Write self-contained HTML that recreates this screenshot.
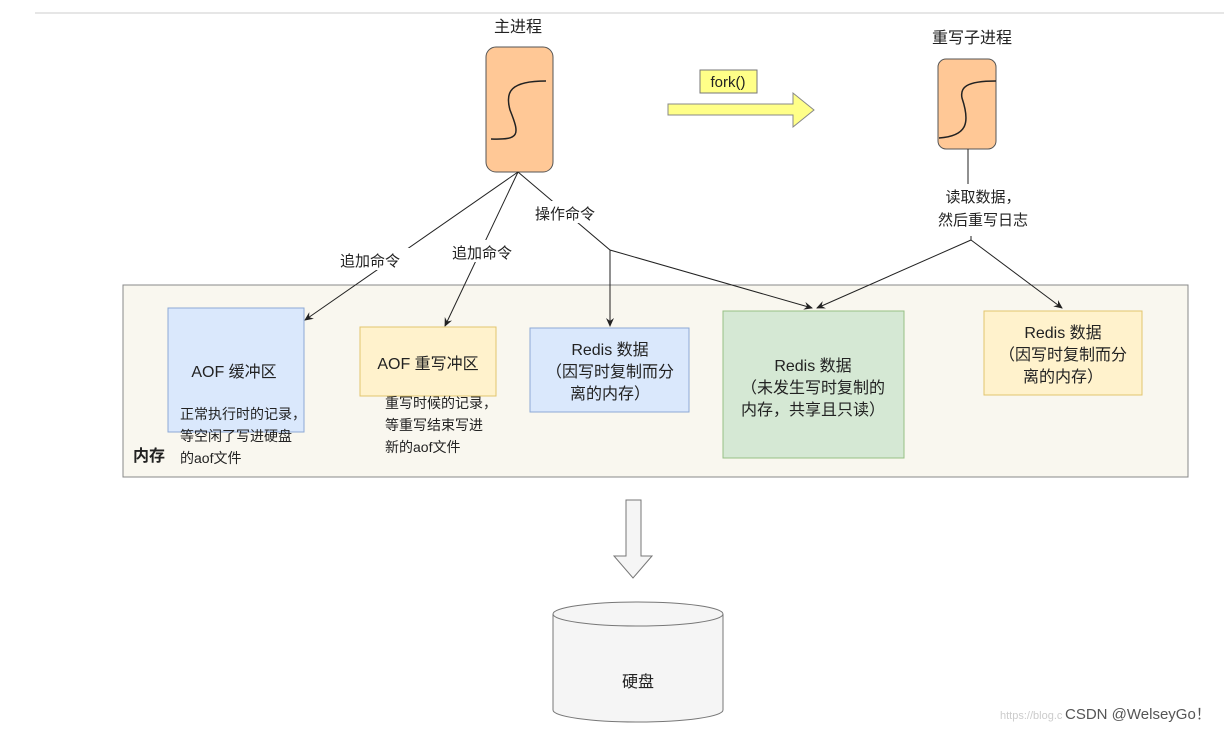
<!DOCTYPE html>
<html><head><meta charset="utf-8"><style>
html,body{margin:0;padding:0;background:#fff;}
svg text{font-family:"Liberation Sans","Noto Sans CJK SC",sans-serif;fill:#222;}
</style></head><body>
<svg width="1224" height="732" viewBox="0 0 1224 732" xmlns="http://www.w3.org/2000/svg">
<defs><marker id="a" markerWidth="10" markerHeight="10" refX="8" refY="5" orient="auto" markerUnits="userSpaceOnUse"><path d="M0,1 L9,5 L0,9 L3,5 Z" fill="#222"/></marker></defs>
<line x1="35" y1="13" x2="1224" y2="13" stroke="#e6e6e6" stroke-width="2"/>
<text x="518" y="32" font-size="16" text-anchor="middle">主进程</text>
<rect x="486" y="47" width="67" height="125" rx="10" fill="#FFC896" stroke="#555"/>
<path d="M546,81 C510,81 505,92 510,110 C520,135 520,140 491,139" fill="none" stroke="#222" stroke-width="1.5"/>
<text x="972" y="43" font-size="16" text-anchor="middle">重写子进程</text>
<rect x="938" y="59" width="58" height="90" rx="8" fill="#FFC896" stroke="#555"/>
<path d="M996,81 C965,81 960,88 962,98 C970,122 968,136 939,138" fill="none" stroke="#222" stroke-width="1.5"/>
<rect x="700" y="70" width="57" height="23" fill="#FFFF88" stroke="#777"/>
<text x="728" y="87" font-size="15" text-anchor="middle">fork()</text>
<path d="M668,104 L793,104 L793,93 L814,110 L793,127 L793,115 L668,115 Z" fill="#FFFF88" stroke="#888"/>
<rect x="123" y="285" width="1065" height="192" fill="#F9F7EF" stroke="#888"/>
<line x1="518" y1="172" x2="305" y2="320" stroke="#222" marker-end="url(#a)"/>
<line x1="518" y1="172" x2="445" y2="326" stroke="#222" marker-end="url(#a)"/>
<polyline points="518,172 610,250 812,308" fill="none" stroke="#222" marker-end="url(#a)"/>
<line x1="610" y1="250" x2="610" y2="326" stroke="#222" marker-end="url(#a)"/>
<line x1="968" y1="149" x2="968" y2="184" stroke="#222"/>
<polyline points="971,236 971,240 817,308" fill="none" stroke="#222" marker-end="url(#a)"/>
<line x1="971" y1="240" x2="1062" y2="308" stroke="#222" marker-end="url(#a)"/>
<rect x="330" y="248" width="80" height="22" fill="#fff"/>
<text x="370" y="266" font-size="15" text-anchor="middle">追加命令</text>
<rect x="443" y="240" width="78" height="22" fill="#fff"/>
<text x="482" y="258" font-size="15" text-anchor="middle">追加命令</text>
<rect x="526" y="201" width="78" height="22" fill="#fff"/>
<text x="565" y="219" font-size="15" text-anchor="middle">操作命令</text>
<text x="983" y="202" font-size="15" text-anchor="middle">读取数据，</text>
<text x="983" y="225" font-size="15" text-anchor="middle">然后重写日志</text>
<rect x="168" y="308" width="136" height="124" fill="#DAE8FC" stroke="#8DA9D6"/>
<text x="234" y="377" font-size="16" text-anchor="middle">AOF 缓冲区</text>
<rect x="360" y="327" width="136" height="69" fill="#FFF2CC" stroke="#E2C56E"/>
<text x="428" y="369" font-size="16" text-anchor="middle">AOF 重写冲区</text>
<rect x="530" y="328" width="159" height="84" fill="#DAE8FC" stroke="#8DA9D6"/>
<text x="610" y="355" font-size="16" text-anchor="middle">Redis 数据</text>
<text x="610" y="377" font-size="16" text-anchor="middle">（因写时复制而分</text>
<text x="610" y="399" font-size="16" text-anchor="middle">离的内存）</text>
<rect x="723" y="311" width="181" height="147" fill="#D5E8D4" stroke="#97C085"/>
<text x="813" y="371" font-size="16" text-anchor="middle">Redis 数据</text>
<text x="813" y="393" font-size="16" text-anchor="middle">（未发生写时复制的</text>
<text x="813" y="415" font-size="16" text-anchor="middle">内存，共享且只读）</text>
<rect x="984" y="311" width="158" height="84" fill="#FFF2CC" stroke="#E2C56E"/>
<text x="1063" y="338" font-size="16" text-anchor="middle">Redis 数据</text>
<text x="1063" y="360" font-size="16" text-anchor="middle">（因写时复制而分</text>
<text x="1063" y="382" font-size="16" text-anchor="middle">离的内存）</text>
<text x="180" y="419" font-size="14">正常执行时的记录，</text>
<text x="180" y="441" font-size="14">等空闲了写进硬盘</text>
<text x="180" y="463" font-size="14">的aof文件</text>
<text x="385" y="408" font-size="14">重写时候的记录，</text>
<text x="385" y="430" font-size="14">等重写结束写进</text>
<text x="385" y="452" font-size="14">新的aof文件</text>
<text x="133" y="461" font-size="16" font-weight="bold">内存</text>
<path d="M626,500 L641,500 L641,556 L652,556 L633,578 L614,556 L626,556 Z" fill="#f5f5f5" stroke="#777"/>
<path d="M553,614 L553,710 A85,12 0 0 0 723,710 L723,614" fill="#f5f5f5" stroke="#777"/>
<ellipse cx="638" cy="614" rx="85" ry="12" fill="#f5f5f5" stroke="#777"/>
<text x="638" y="687" font-size="16" text-anchor="middle">硬盘</text>
<text x="1000" y="719" font-size="11" style="fill:#ccc">https://blog.c</text>
<text x="1065" y="719" font-size="15" style="fill:#555">CSDN @WelseyGo！</text>
</svg>
</body></html>
